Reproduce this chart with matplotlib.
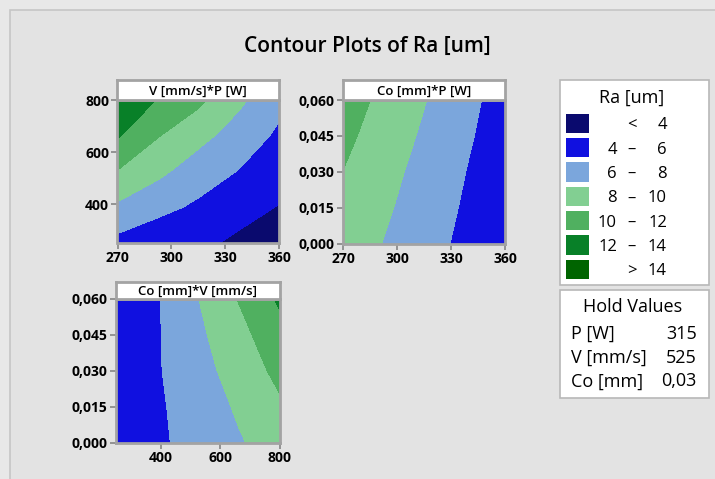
import matplotlib
matplotlib.use("Agg")
import matplotlib.pyplot as plt
from matplotlib.patches import Rectangle
import numpy as np

# ---------------- data ----------------
p_vals = [270, 292.5, 315, 337.5, 360]          # P [W]
v_vals = [250, 387.5, 525, 662.5, 800]          # V [mm/s]
co_vals = [0.0, 0.015, 0.03, 0.045, 0.06]       # Co [mm]

# Ra [um] at V (rows) x P (cols), Co held at 0.03
ra_vp = [
    [5.41, 4.61, 4.47, 3.59, 3.03],
    [7.66, 6.58, 5.65, 4.76, 3.91],
    [9.92, 8.44, 7.01, 5.93, 4.78],
    [12.17, 10.10, 8.59, 7.14, 5.66],
    [13.90, 11.90, 10.45, 8.40, 6.53],
]
# Ra [um] at Co (rows) x P (cols), V held at 525
ra_cop = [
    [9.14, 7.95, 6.76, 5.58, 4.39],
    [9.57, 8.32, 7.06, 5.81, 4.56],
    [9.98, 8.68, 7.36, 6.04, 4.73],
    [10.49, 9.10, 7.73, 6.34, 4.94],
    [10.98, 9.53, 8.10, 6.63, 5.14],
]
# Ra [um] at Co (rows) x V (cols), P held at 315
ra_cov = [
    [4.55, 5.64, 6.73, 7.82, 8.85],
    [4.45, 5.70, 6.95, 8.24, 9.68],
    [4.32, 5.81, 7.30, 8.78, 10.53],
    [4.30, 5.81, 7.60, 9.34, 11.38],
    [3.85, 5.81, 7.95, 10.10, 12.30],
]

levels = [-100, 4, 6, 8, 10, 12, 14, 100]
band_labels = [("", "<", "4"), ("4", "–", "6"), ("6", "–", "8"), ("8", "–", "10"),
               ("10", "–", "12"), ("12", "–", "14"), ("", ">", "14")]
band_colors = ["#0a0a6e", "#1010e0", "#7ba6dc", "#82cf92", "#50b060", "#088028", "#006400"]

p_ticks = [270, 300, 330, 360]
v_ticks_y = [400, 600, 800]
v_ticks_x = [400, 600, 800]
co_ticks = [0.0, 0.015, 0.03, 0.045, 0.06]
co_ticklabels = ["0,000", "0,015", "0,030", "0,045", "0,060"]

hold_names = ["P [W]", "V [mm/s]", "Co [mm]"]
hold_values = ["315", "525", "0,03"]

panel_titles = ["V [mm/s]*P [W]", "Co [mm]*P [W]", "Co [mm]*V [mm/s]"]

# ---------------- figure ----------------
W, H = 715, 479
plt.rcParams["font.family"] = ["Open Sans", "DejaVu Sans"]
fig = plt.figure(figsize=(W / 100, H / 100), dpi=100)
fig.patch.set_facecolor("#e8e8e8")

bg = fig.add_axes([0, 0, 1, 1], zorder=-5)
bg.set_xlim(0, W)
bg.set_ylim(H, 0)
bg.axis("off")
bg.add_patch(Rectangle((10, 10), W, H, facecolor="#e3e3e3", edgecolor="#c6c6c6", lw=1.2))

FRAME = "#a3a3a3"


def ax_px(x0, y0, x1, y1, **kw):
    return fig.add_axes([x0 / W, 1 - y1 / H, (x1 - x0) / W, (y1 - y0) / H], **kw)


def style(ax):
    for s in ax.spines.values():
        s.set_color(FRAME)
        s.set_linewidth(2)
    ax.tick_params(direction="out", length=4, width=1.3, color="#8c8c8c", pad=2,
                   labelsize=10)
    for lab in ax.get_xticklabels() + ax.get_yticklabels():
        lab.set_fontweight("bold")


def header(x0, y0, x1, y1, text):
    h = ax_px(x0, y0, x1, y1)
    h.set_facecolor("white")
    h.set_xticks([])
    h.set_yticks([])
    for s in h.spines.values():
        s.set_color(FRAME)
        s.set_linewidth(2)
    h.text(0.5, 0.45, text, ha="center", va="center", fontsize=9.5,
           fontweight="semibold", transform=h.transAxes)


# Panel 1: V vs P
a1 = ax_px(117.5, 100, 279, 243)
a1.contourf(p_vals, v_vals, np.array(ra_vp), levels=levels, colors=band_colors)
a1.set_xlim(270, 360)
a1.set_ylim(250, 800)
a1.set_xticks(p_ticks)
a1.set_yticks(v_ticks_y)
style(a1)
header(117.5, 80, 279, 100, panel_titles[0])

# Panel 2: Co vs P
a2 = ax_px(343, 100, 505, 243.5)
a2.contourf(p_vals, co_vals, np.array(ra_cop), levels=levels, colors=band_colors)
a2.set_xlim(270, 360)
a2.set_ylim(0, 0.06)
a2.set_xticks(p_ticks)
a2.set_yticks(co_ticks)
a2.set_yticklabels(co_ticklabels)
style(a2)
header(343, 80, 505, 100, panel_titles[1])

# Panel 3: Co vs V
a3 = ax_px(116, 298.5, 279.5, 443)
a3.contourf(v_vals, co_vals, np.array(ra_cov), levels=levels, colors=band_colors)
a3.set_xlim(250, 800)
a3.set_ylim(0, 0.06)
a3.set_xticks(v_ticks_x)
a3.set_yticks(co_ticks)
a3.set_yticklabels(co_ticklabels)
style(a3)
header(116, 281.5, 279.5, 298.5, panel_titles[2])

# Title
bg.text(367, 46, "Contour Plots of Ra [um]", ha="center", va="center",
        fontsize=15, fontweight="semibold")

# Legend box
FS = 12
FS_T = 13
bg.add_patch(Rectangle((560, 80), 149, 205, facecolor="white", edgecolor="#b8b8b8", lw=1.2))
bg.text(632, 103, "Ra [um]", ha="center", va="baseline", fontsize=FS_T)
y0, dy = 123.3, 24.35
for i, (c, (lo, mid, hi)) in enumerate(zip(band_colors, band_labels)):
    yc = y0 + i * dy
    base = yc + 6
    bg.add_patch(Rectangle((566, yc - 9.7), 23, 19.4, facecolor=c, edgecolor="none"))
    if lo:
        bg.text(617, base, lo, ha="right", va="baseline", fontsize=FS)
    bg.text(632, base, mid, ha="center", va="baseline", fontsize=FS)
    bg.text(667, base, hi, ha="right", va="baseline", fontsize=FS)

# Hold values box
bg.add_patch(Rectangle((560, 290), 149, 107.5, facecolor="white", edgecolor="#b8b8b8", lw=1.2))
bg.text(633, 312, "Hold Values", ha="center", va="baseline", fontsize=FS_T)
for i, (n, v) in enumerate(zip(hold_names, hold_values)):
    base = 339 + i * 23.7
    bg.text(571, base, n, ha="left", va="baseline", fontsize=FS_T)
    bg.text(697, base, v, ha="right", va="baseline", fontsize=FS_T)

fig.savefig("out.png", dpi=100, facecolor=fig.get_facecolor())
